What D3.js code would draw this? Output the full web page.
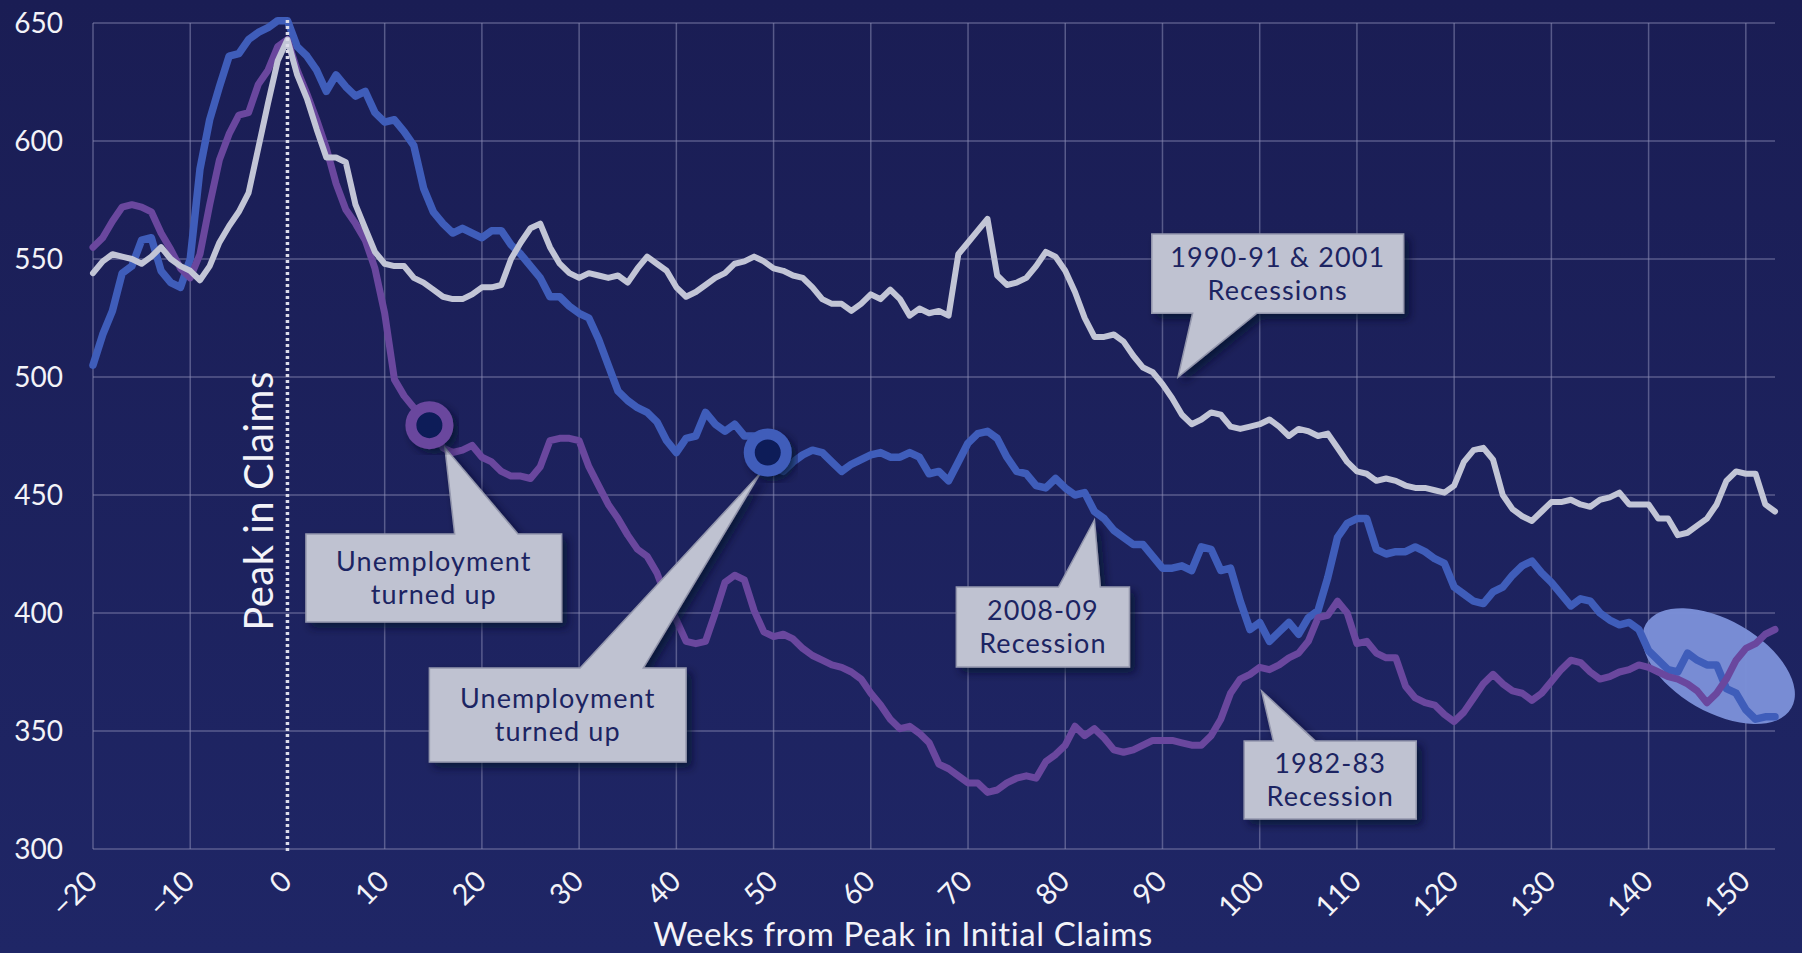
<!DOCTYPE html>
<html>
<head>
<meta charset="utf-8">
<script src="https://cdn.jsdelivr.net/npm/d3@7"></script>
<style>
  html, body { margin: 0; padding: 0; background: #1c1f58; }
  svg { display: block; }
  text { font-family: "Lato", "Open Sans", sans-serif; }
</style>
</head>
<body>
<svg id="chart" width="1802" height="953"></svg>
<script>
// ---------------- DATA ----------------
const weekStart = -20;
const weekEnd = 153;
const yTicks = [300, 350, 400, 450, 500, 550, 600, 650];
const xTicks = [-20, -10, 0, 10, 20, 30, 40, 50, 60, 70, 80, 90, 100, 110, 120, 130, 140, 150];

// 2008-09 recession (weeks -20 .. 153)
const recession2008 = [
  505,518,528,544,547,558,559,545,540,538,   // -20..-11
  550,588,609,623,636,637,643,646,648,651,   // -10..-1
  651,640,636,630,621,628,623,619,621,612,   // 0..9
  608,609,604,598,580,570,565,561,563,561,   // 10..19
  559,562,562,556,552,547,542,534,534,530,   // 20..29
  527,525,516,505,494,490,487,485,481,473,   // 30..39
  468,474,475,485,480,477,480,475,475,469,   // 40..49
  462,460,464,467,469,468,464,460,463,465,   // 50..59
  467,468,466,466,468,466,459,460,456,464,   // 60..69
  472,476,477,474,466,460,459,454,453,457,   // 70..79
  453,450,451,443,440,435,432,429,429,424,   // 80..89
  419,419,420,418,428,427,418,419,405,393,   // 90..99
  396,388,392,396,391,398,401,415,432,438,   // 100..109
  440,440,427,425,426,426,428,426,423,421,   // 110..119
  411,408,405,404,409,411,416,420,422,417,   // 120..129
  413,408,403,406,405,400,397,395,396,393,   // 130..139
  384,380,376,375,383,380,378,378,368,366,   // 140..149
  359,355,356,356                            // 150..153
];

// 1982-83 recession
const recession1982 = [
  555,559,566,572,573,572,570,561,554,546,   // -20..-11
  542,552,573,592,603,611,612,624,630,640,   // -10..-1
  643,630,620,609,597,582,571,565,558,546,   // 0..9
  527,499,492,487,482,478,470,468,469,471,   // 10..19
  466,464,460,458,458,457,462,473,474,474,   // 20..29
  473,462,454,446,440,433,427,424,417,406,   // 30..39
  397,388,387,388,400,413,416,414,401,392,   // 40..49
  390,391,389,385,382,380,378,377,375,372,   // 50..59
  366,361,355,351,352,349,345,336,334,331,   // 60..69
  328,328,324,325,328,330,331,330,337,340,   // 70..79
  344,352,348,351,347,342,341,342,344,346,   // 80..89
  346,346,345,344,344,348,355,366,372,374,   // 90..99
  377,376,378,381,383,388,398,399,405,400,   // 100..109
  387,388,383,381,381,369,364,362,361,357,   // 110..119
  354,358,364,370,374,370,367,366,363,366,   // 120..129
  371,376,380,379,375,372,373,375,376,378,   // 130..139
  377,375,373,372,370,367,362,366,372,380,   // 140..149
  385,387,391,393                            // 150..153
];

// 1990-91 & 2001 recessions
const recession1990 = [
  544,549,552,551,550,548,551,555,550,547,   // -20..-11
  545,541,547,557,564,570,578,597,616,634,   // -10..-1
  643,628,618,605,593,593,591,573,563,553,   // 0..9
  548,547,547,542,540,537,534,533,533,535,   // 10..19
  538,538,539,550,557,563,565,555,548,544,   // 20..29
  542,544,543,542,543,540,546,551,548,545,   // 30..39
  538,534,536,539,542,544,548,549,551,549,   // 40..49
  546,545,543,542,538,533,531,531,528,531,   // 50..59
  535,533,537,533,526,529,527,528,526,552,   // 60..69
  557,562,567,543,539,540,542,547,553,551,   // 70..79
  545,536,525,517,517,518,515,509,504,502,   // 80..89
  497,491,484,480,482,485,484,479,478,479,   // 90..99
  480,482,479,475,478,477,475,476,470,464,   // 100..109
  460,459,456,457,456,454,453,453,452,451,   // 110..119
  454,464,469,470,465,450,444,441,439,443,   // 120..129
  447,447,448,446,445,448,449,451,446,446,   // 130..139
  446,440,440,433,434,437,440,446,456,460,   // 140..149
  459,459,446,443                            // 150..153
];

const seriesNames = ["2008-09", "1982-83", "1990-91 & 2001"];
const seriesColors = ["#3f5dba", "#6a479e", "#c2c5d6"];
const seriesWidths = [7.5, 7, 6];

// "Unemployment turned up" markers: [week, value, seriesIndex]
const markers = [[14.6, 479.6, 1], [49.4, 468, 0]];

// callouts in data coordinates
const callouts = [
  { lines: ["Unemployment", "turned up"], box: [1.9, 28.2, 433.5, 396.2], base: [17.2, 23.7], tip: [16.2, 470], side: "top" },
  { lines: ["Unemployment", "turned up"], box: [14.6, 41.0, 376.7, 336.9], base: [30.1, 36.6], tip: [48.6, 459], side: "top" },
  { lines: ["2008-09", "Recession"], box: [68.8, 86.6, 411.0, 377.1], base: [79.3, 83.6], tip: [83.0, 439.4], side: "top" },
  { lines: ["1990-91 & 2001", "Recessions"], box: [88.9, 114.8, 560.6, 527.0], base: [93.1, 99.7], tip: [91.6, 500], side: "bottom" },
  { lines: ["1982-83", "Recession"], box: [98.4, 116.1, 345.8, 312.7], base: [101.4, 105.7], tip: [100.2, 367], side: "top" }
];

// highlight ellipse [week, value]
const highlight = { center: [147.2, 377.5], rx: 84, ry: 46, angle: 30 };

// ---------------- CHART ----------------
const W = 1802, H = 953;
const svg = d3.select("#chart");
const defs = svg.append("defs");

const grad = defs.append("linearGradient").attr("id", "bg").attr("x1", 0).attr("y1", 0).attr("x2", 0).attr("y2", 1);
grad.append("stop").attr("offset", "0%").attr("stop-color", "#1a1d54");
grad.append("stop").attr("offset", "100%").attr("stop-color", "#1f2666");

const shadow = defs.append("filter").attr("id", "shadow").attr("x", "-20%").attr("y", "-20%").attr("width", "150%").attr("height", "150%");
shadow.append("feDropShadow").attr("dx", 5).attr("dy", 5).attr("stdDeviation", 4)
  .attr("flood-color", "#050828").attr("flood-opacity", 0.7);

svg.append("rect").attr("width", W).attr("height", H).attr("fill", "url(#bg)");

const x = d3.scaleLinear().domain([weekStart, weekEnd]).range([93, 1775]);
const y = d3.scaleLinear().domain([300, 650]).range([849, 23]);

// grid
const grid = svg.append("g").attr("stroke", "#8a8db4").attr("stroke-opacity", 0.55).attr("stroke-width", 1.5);
grid.selectAll("line.h").data(yTicks).join("line")
  .attr("x1", x(weekStart)).attr("x2", x(weekEnd))
  .attr("y1", d => y(d)).attr("y2", d => y(d));
grid.selectAll("line.v").data(xTicks.filter(d => d !== 0)).join("line")
  .attr("x1", d => x(d)).attr("x2", d => x(d))
  .attr("y1", y(650)).attr("y2", y(300));

// axes labels
const yAxis = d3.axisLeft(y).tickValues(yTicks).tickSize(0).tickPadding(0);
const gy = svg.append("g").attr("transform", "translate(63,0)").call(yAxis);
gy.select(".domain").remove();
gy.selectAll("text").attr("fill", "#f3f3f8").attr("font-size", 28).attr("dy", "0.35em")
  .style("font-family", "Lato, 'Open Sans', sans-serif");

const xAxis = d3.axisBottom(x).tickValues(xTicks).tickSize(0).tickFormat(d3.format("d"));
const gx = svg.append("g").call(xAxis);
gx.select(".domain").remove();
gx.selectAll(".tick").attr("transform", d => `translate(${x(d) - 1},876)`);
gx.selectAll("text").attr("fill", "#f3f3f8").attr("font-size", 29)
  .attr("y", 0).attr("x", 0).attr("dy", "0.35em")
  .attr("text-anchor", "end").attr("transform", "rotate(-45)")
  .style("font-family", "Lato, 'Open Sans', sans-serif");

svg.append("text").attr("x", 903).attr("y", 933).attr("text-anchor", "middle")
  .attr("dominant-baseline", "central").attr("letter-spacing", 0.6)
  .attr("fill", "#f3f3f8").attr("font-size", 33)
  .text("Weeks from Peak in Initial Claims");

// highlight ellipse
const [ecx, ecy] = [x(highlight.center[0]), y(highlight.center[1])];
svg.append("ellipse").attr("cx", 0).attr("cy", 0).attr("rx", highlight.rx).attr("ry", highlight.ry)
  .attr("transform", `translate(${ecx},${ecy}) rotate(${highlight.angle})`)
  .attr("fill", "#7b8fd8").attr("fill-opacity", 0.97);

// series lines
const weeks = d3.range(weekStart, weekEnd + 1);
const allSeries = [recession2008, recession1982, recession1990];
const line = d3.line().x((d, i) => x(weeks[i])).y(d => y(d));
svg.append("g").selectAll("path").data(allSeries).join("path")
  .attr("d", d => line(d))
  .attr("fill", "none")
  .attr("stroke", (d, i) => seriesColors[i])
  .attr("stroke-width", (d, i) => seriesWidths[i])
  .attr("stroke-linejoin", "round").attr("stroke-linecap", "round");

// peak dotted line
svg.append("line").attr("x1", x(0)).attr("x2", x(0)).attr("y1", y(650) - 3).attr("y2", y(300) + 3)
  .attr("stroke", "#dcdcea").attr("stroke-width", 3.5).attr("stroke-dasharray", "3,3");

svg.append("text").attr("transform", `translate(273,501) rotate(-90)`)
  .attr("text-anchor", "middle").attr("fill", "#f3f3f8").attr("font-size", 40)
  .attr("letter-spacing", 0.5)
  .text("Peak in Claims");

// callouts
const cg = svg.append("g");
callouts.forEach(c => {
  const x0 = x(c.box[0]), x1 = x(c.box[1]), y0 = y(c.box[2]), y1 = y(c.box[3]);
  const bx0 = x(c.base[0]), bx1 = x(c.base[1]);
  const tx = x(c.tip[0]), ty = y(c.tip[1]);
  const p = d3.path();
  if (c.side === "top") {
    p.moveTo(x0, y0); p.lineTo(bx0, y0); p.lineTo(tx, ty); p.lineTo(bx1, y0);
    p.lineTo(x1, y0); p.lineTo(x1, y1); p.lineTo(x0, y1); p.closePath();
  } else {
    p.moveTo(x0, y0); p.lineTo(x1, y0); p.lineTo(x1, y1); p.lineTo(bx1, y1);
    p.lineTo(tx, ty); p.lineTo(bx0, y1); p.lineTo(x0, y1); p.closePath();
  }
  cg.append("path").attr("d", p.toString()).attr("fill", "#bfc2d1")
    .attr("stroke", "#9497ad").attr("stroke-width", 1.5).attr("filter", "url(#shadow)");
  const cx = (x0 + x1) / 2, cy = (y0 + y1) / 2;
  const t = cg.append("text").attr("text-anchor", "middle").attr("fill", "#1c2462")
    .attr("font-size", 27).attr("letter-spacing", 1.1);
  c.lines.forEach((l, i) => {
    t.append("tspan").attr("x", cx).attr("y", cy + (i - 0.5) * 33).attr("dy", "0.35em").text(l);
  });
});

// markers
svg.append("g").selectAll("circle").data(markers).join("circle")
  .attr("cx", d => x(d[0])).attr("cy", d => y(d[1])).attr("r", 18.5)
  .attr("fill", "#0c1a58").attr("stroke", d => seriesColors[d[2]]).attr("stroke-width", 11)
  .attr("filter", "url(#shadow)");
</script>
</body>
</html>
